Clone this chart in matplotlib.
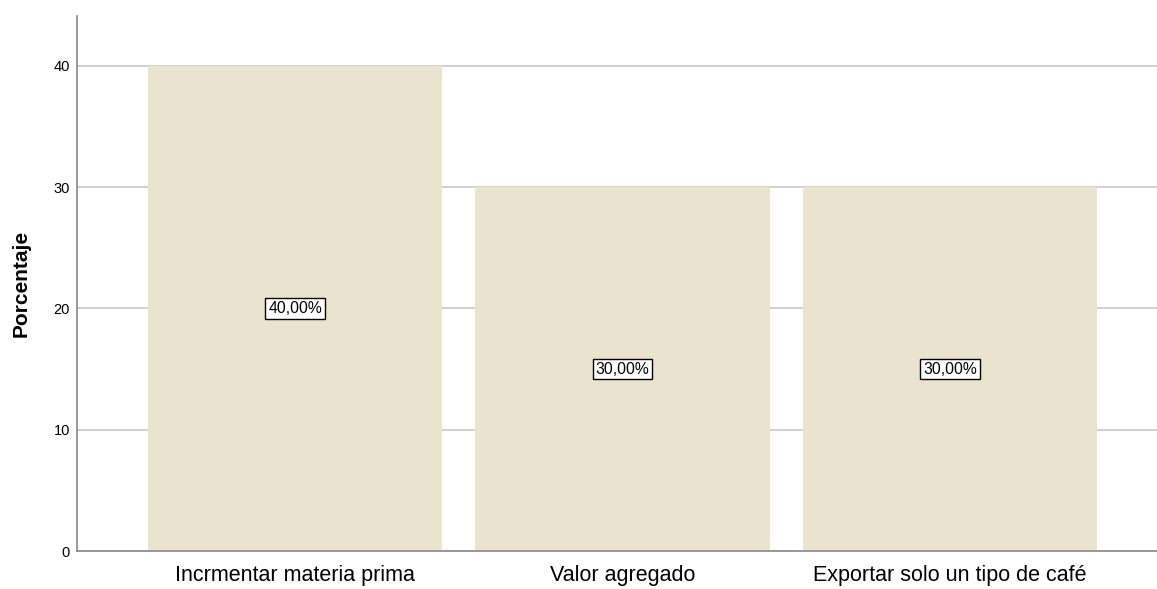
import matplotlib.pyplot as plt

categories = ['Incrmentar materia prima', 'Valor agregado', 'Exportar solo un tipo de café']
percentages = [40.0, 30.0, 30.0]
yticks = [0, 10, 20, 30, 40]

plt.rcParams['font.family'] = ['Liberation Sans', 'DejaVu Sans']

fig = plt.figure(figsize=(11.57, 5.89), dpi=100)
ax = fig.add_axes([0.0666, 0.0645, 0.9334, 0.9083])

x = range(len(categories))
ax.bar(x, percentages, width=0.9, color='#eae3ce', zorder=2)

for i, v in zip(x, percentages):
    ax.text(i, v / 2, '{:.2f}%'.format(v).replace('.', ','), ha='center', va='center',
            fontsize=11.3, zorder=3,
            bbox=dict(boxstyle='square,pad=0.18', fc='white', ec='black', lw=1.0))

ax.set_xlim(-0.666, 2.632)
ax.set_ylim(0, 44.1)
ax.set_yticks(yticks)
ax.set_xticks(list(x))
ax.set_xticklabels(categories, fontsize=15.5)
ax.tick_params(axis='both', length=0)
ax.tick_params(axis='y', labelsize=10.5, pad=5)
ax.tick_params(axis='x', pad=10)
ax.yaxis.grid(True, color='#c8c8c8', lw=1.2, zorder=1)
ax.set_axisbelow(True)

for s in ['top', 'right']:
    ax.spines[s].set_visible(False)
for s in ['left', 'bottom']:
    ax.spines[s].set_color('#888888')
    ax.spines[s].set_linewidth(1.2)

ax.set_ylabel('Porcentaje', fontsize=15, fontweight='bold', labelpad=17)

fig.savefig('out.png', dpi=100)
